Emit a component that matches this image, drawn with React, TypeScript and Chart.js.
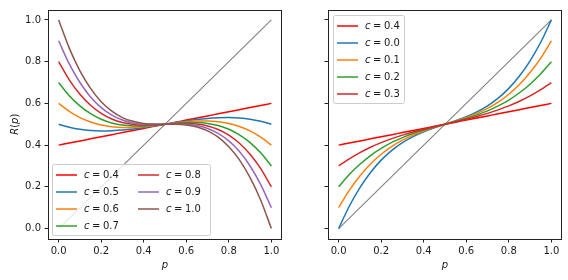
import React, { useEffect, useRef } from "react";
import { Chart, registerables } from "chart.js";

Chart.register(...registerables);

// ---- data ----
const P = [0, 0.05, 0.1, 0.15, 0.2, 0.25, 0.3, 0.35, 0.4, 0.45, 0.5, 0.55, 0.6, 0.65, 0.7, 0.75, 0.8, 0.85, 0.9, 0.95, 1.0];

const R_C00 = [0, 0.107, 0.196, 0.269, 0.328, 0.375, 0.412, 0.441, 0.464, 0.483, 0.5, 0.517, 0.536, 0.559, 0.588, 0.625, 0.672, 0.731, 0.804, 0.893, 1.0];
const R_C01 = [0.1, 0.183, 0.252, 0.309, 0.356, 0.394, 0.424, 0.448, 0.468, 0.485, 0.5, 0.515, 0.532, 0.552, 0.576, 0.606, 0.644, 0.691, 0.748, 0.817, 0.9];
const R_C02 = [0.2, 0.259, 0.308, 0.35, 0.384, 0.413, 0.436, 0.456, 0.472, 0.487, 0.5, 0.514, 0.528, 0.545, 0.564, 0.588, 0.616, 0.651, 0.692, 0.742, 0.8];
const R_C03 = [0.3, 0.334, 0.364, 0.39, 0.412, 0.431, 0.448, 0.463, 0.476, 0.488, 0.5, 0.512, 0.524, 0.537, 0.552, 0.569, 0.588, 0.61, 0.636, 0.666, 0.7];
const R_C04 = [0.4, 0.41, 0.42, 0.43, 0.44, 0.45, 0.46, 0.47, 0.48, 0.49, 0.5, 0.51, 0.52, 0.53, 0.54, 0.55, 0.56, 0.57, 0.58, 0.59, 0.6];
const R_C05 = [0.5, 0.486, 0.476, 0.47, 0.468, 0.469, 0.472, 0.477, 0.484, 0.492, 0.5, 0.508, 0.516, 0.523, 0.528, 0.531, 0.532, 0.53, 0.524, 0.514, 0.5];
const R_C06 = [0.6, 0.562, 0.532, 0.511, 0.496, 0.488, 0.484, 0.485, 0.488, 0.494, 0.5, 0.506, 0.512, 0.515, 0.516, 0.512, 0.504, 0.489, 0.468, 0.438, 0.4];
const R_C07 = [0.7, 0.637, 0.588, 0.551, 0.524, 0.506, 0.496, 0.492, 0.492, 0.495, 0.5, 0.505, 0.508, 0.508, 0.504, 0.494, 0.476, 0.449, 0.412, 0.363, 0.3];
const R_C08 = [0.8, 0.713, 0.644, 0.591, 0.552, 0.525, 0.508, 0.499, 0.496, 0.497, 0.5, 0.503, 0.504, 0.501, 0.492, 0.475, 0.448, 0.409, 0.356, 0.287, 0.2];
const R_C09 = [0.9, 0.789, 0.7, 0.631, 0.58, 0.544, 0.52, 0.506, 0.5, 0.499, 0.5, 0.501, 0.5, 0.494, 0.48, 0.456, 0.42, 0.369, 0.3, 0.211, 0.1];
const R_C10 = [1.0, 0.865, 0.756, 0.672, 0.608, 0.563, 0.532, 0.514, 0.504, 0.501, 0.5, 0.5, 0.496, 0.487, 0.468, 0.438, 0.392, 0.329, 0.244, 0.136, 0.0];

const DIAG_X = [0, 1];
const DIAG_Y = [0, 1];

const TICKS = [0, 0.2, 0.4, 0.6, 0.8, 1.0];

const LEFT_C = ["0.4", "0.5", "0.6", "0.7", "0.8", "0.9", "1.0"];
const LEFT_VALUES = [R_C04, R_C05, R_C06, R_C07, R_C08, R_C09, R_C10];
const LEFT_COLORS = ["#ff0000", "#1f77b4", "#ff7f0e", "#2ca02c", "#d62728", "#9467bd", "#8c564b"];

const RIGHT_C = ["0.4", "0.0", "0.1", "0.2", "0.3"];
const RIGHT_VALUES = [R_C04, R_C00, R_C01, R_C02, R_C03];
const RIGHT_COLORS = ["#ff0000", "#1f77b4", "#ff7f0e", "#2ca02c", "#d62728"];

const FONT = '"DejaVu Sans", sans-serif';
const TEXT = "#1a1a1a";

type LegendCfg = { rows: number; anchor: "bottom-left" | "top-left"; dx: number; dy: number };

function drawCLabel(ctx: CanvasRenderingContext2D, x: number, y: number, num: string) {
  ctx.textAlign = "left";
  ctx.textBaseline = "middle";
  ctx.fillStyle = TEXT;
  ctx.font = `italic 10px ${FONT}`;
  ctx.fillText("c", x, y);
  ctx.font = `10px ${FONT}`;
  ctx.fillText("=", x + 8, y);
  ctx.fillText(num, x + 19, y);
}

function makeOverlay(labels: string[], colors: string[], legend: LegendCfg, showYTitle: boolean) {
  return {
    id: "overlay",
    afterDatasetsDraw(chart: any) {
      const ctx: CanvasRenderingContext2D = chart.ctx;
      const ca = chart.chartArea;
      ctx.save();
      // frame
      ctx.strokeStyle = "#222";
      ctx.lineWidth = 1;
      const l = Math.round(ca.left) + 0.5;
      const r = Math.round(ca.right) - 0.5;
      const t = Math.round(ca.top) + 0.5;
      const b = Math.round(ca.bottom) + 0.5;
      ctx.strokeRect(l, t, r - l, b - t);

      // legend
      const n = labels.length;
      const cols = Math.ceil(n / legend.rows);
      const rowH = 17;
      const colW = 82;
      const boxW = 4 + cols * 67 + (cols - 1) * 20;
      const boxH = legend.rows * rowH + 3;
      const bx = Math.round(ca.left) + legend.dx;
      const by = legend.anchor === "top-left" ? Math.round(ca.top) + legend.dy : Math.round(ca.bottom) - legend.dy - boxH;
      ctx.beginPath();
      (ctx as any).roundRect(bx + 0.5, by + 0.5, boxW, boxH, 2);
      ctx.fillStyle = "rgba(255,255,255,0.8)";
      ctx.fill();
      ctx.strokeStyle = "#cccccc";
      ctx.lineWidth = 1;
      ctx.stroke();
      for (let i = 0; i < n; i++) {
        const col = Math.floor(i / legend.rows);
        const row = i % legend.rows;
        const x0 = bx + 4 + col * colW;
        const y0 = by + 11 + row * rowH;
        ctx.beginPath();
        ctx.moveTo(x0, y0);
        ctx.lineTo(x0 + 21, y0);
        ctx.strokeStyle = colors[i];
        ctx.lineWidth = 1.5;
        ctx.stroke();
        drawCLabel(ctx, x0 + 28, y0, labels[i]);
      }
      ctx.restore();
    },
    afterDraw(chart: any) {
      const ctx: CanvasRenderingContext2D = chart.ctx;
      const ca = chart.chartArea;
      ctx.save();
      ctx.fillStyle = TEXT;
      ctx.textBaseline = "middle";
      ctx.textAlign = "center";
      ctx.font = `italic 10px ${FONT}`;
      ctx.fillText("p", (ca.left + ca.right) / 2, 265);
      if (showYTitle) {
        ctx.translate(15, (ca.top + ca.bottom) / 2);
        ctx.rotate(-Math.PI / 2);
        ctx.textAlign = "left";
        const parts: [string, boolean][] = [["R", true], ["(", false], ["p", true], [")", false]];
        let w = 0;
        for (const [s, it] of parts) {
          ctx.font = `${it ? "italic " : ""}10px ${FONT}`;
          w += ctx.measureText(s).width;
        }
        let x = -w / 2;
        for (const [s, it] of parts) {
          ctx.font = `${it ? "italic " : ""}10px ${FONT}`;
          ctx.fillText(s, x, 0);
          x += ctx.measureText(s).width;
        }
      }
      ctx.restore();
    },
  };
}

function makeConfig(
  labels: string[],
  values: number[][],
  colors: string[],
  yWidth: number,
  padRight: number,
  showYLabels: boolean,
  legend: LegendCfg
): any {
  const datasets: any[] = [
    {
      label: "diagonal",
      data: DIAG_X.map((x, i) => ({ x, y: DIAG_Y[i] })),
      borderColor: "#808080",
      borderWidth: 1.1,
      tension: 0,
      order: 100,
    },
    ...labels.map((lab, i) => ({
      label: `c = ${lab}`,
      data: P.map((p, j) => ({ x: p, y: values[i][j] })),
      borderColor: colors[i],
      borderWidth: 1.5,
      order: 50 - i,
    })),
  ];
  const tickFont = { family: FONT, size: 10 };
  return {
    type: "line",
    data: { datasets },
    options: {
      animation: false,
      responsive: false,
      events: [],
      layout: { padding: { left: 0, right: padRight, top: 6, bottom: 0 } },
      elements: { point: { radius: 0 }, line: { tension: 0.3, fill: false, borderCapStyle: "butt" } },
      plugins: { legend: { display: false }, tooltip: { enabled: false } },
      scales: {
        x: {
          type: "linear",
          min: -0.05,
          max: 1.05,
          afterBuildTicks: (s: any) => {
            s.ticks = TICKS.map((v) => ({ value: v }));
          },
          afterFit: (s: any) => {
            s.height = 41;
          },
          grid: { drawOnChartArea: false, drawTicks: true, tickLength: 3.5, tickColor: "#222", tickWidth: 1 },
          border: { display: false },
          ticks: {
            font: tickFont,
            color: TEXT,
            padding: 3,
            maxRotation: 0,
            autoSkip: false,
            callback: (v: any) => Number(v).toFixed(1),
          },
        },
        y: {
          type: "linear",
          min: -0.05,
          max: 1.05,
          afterBuildTicks: (s: any) => {
            s.ticks = TICKS.map((v) => ({ value: v }));
          },
          afterFit: (s: any) => {
            s.width = yWidth;
          },
          grid: { drawOnChartArea: false, drawTicks: true, tickLength: 3.5, tickColor: "#222", tickWidth: 1 },
          border: { display: false },
          ticks: {
            font: tickFont,
            color: showYLabels ? TEXT : "rgba(0,0,0,0)",
            padding: 3.5,
            autoSkip: false,
            callback: (v: any) => Number(v).toFixed(1),
          },
        },
      },
    },
    plugins: [makeOverlay(labels, colors, legend, showYLabels)],
  };
}

export default function App() {
  const leftRef = useRef<HTMLCanvasElement>(null);
  const rightRef = useRef<HTMLCanvasElement>(null);

  useEffect(() => {
    const c1 = new Chart(
      leftRef.current as HTMLCanvasElement,
      makeConfig(LEFT_C, LEFT_VALUES, LEFT_COLORS, 48, 8, true, { rows: 4, anchor: "bottom-left", dx: 4, dy: 4 })
    );
    const c2 = new Chart(
      rightRef.current as HTMLCanvasElement,
      makeConfig(RIGHT_C, RIGHT_VALUES, RIGHT_COLORS, 38, 6, false, { rows: 5, anchor: "top-left", dx: 5, dy: 5 })
    );
    return () => {
      c1.destroy();
      c2.destroy();
    };
  }, []);

  return (
    <div style={{ position: "fixed", left: 0, top: 0, width: 568, height: 280, background: "#fff" }}>
      <canvas ref={leftRef} width={290} height={280} style={{ position: "absolute", left: 0, top: 0, width: 290, height: 280 }} />
      <canvas ref={rightRef} width={278} height={280} style={{ position: "absolute", left: 290, top: 0, width: 278, height: 280 }} />
    </div>
  );
}
